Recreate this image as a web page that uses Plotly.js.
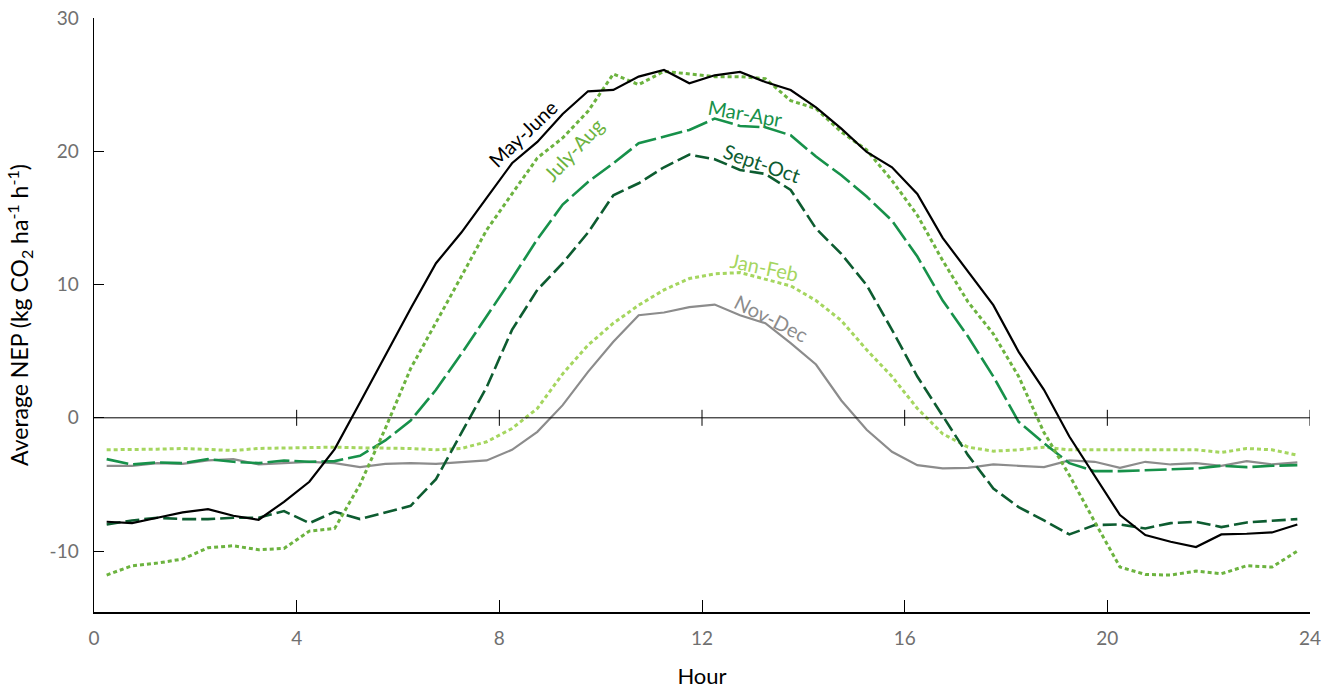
<!DOCTYPE html>
<html>
<head>
<meta charset="utf-8">
<script src="https://cdn.plot.ly/plotly-3.0.1.min.js"></script>
<style>
  html, body { margin: 0; padding: 0; background: #fff; }
  #chart { width: 1323px; height: 689px; }
</style>
</head>
<body>
<div id="chart"></div>
<script>
// Hour of day (half-hour midpoints)
const hours = [0.25,0.75,1.25,1.75,2.25,2.75,3.25,3.75,4.25,4.75,5.25,5.75,6.25,6.75,7.25,7.75,
  8.25,8.75,9.25,9.75,10.25,10.75,11.25,11.75,12.25,12.75,13.25,13.75,14.25,14.75,15.25,15.75,
  16.25,16.75,17.25,17.75,18.25,18.75,19.25,19.75,20.25,20.75,21.25,21.75,22.25,22.75,23.25,23.75];

const mayJune = [-7.8,-7.9,-7.5,-7.1,-6.85,-7.35,-7.65,-6.3,-4.8,-2.35,1.15,4.7,8.2,11.6,13.9,16.5,
  19.1,20.7,22.8,24.5,24.6,25.6,26.1,25.1,25.7,25.95,25.2,24.6,23.3,21.7,19.95,18.8,
  16.8,13.5,10.95,8.45,4.95,2.1,-1.4,-4.3,-7.3,-8.8,-9.3,-9.7,-8.75,-8.7,-8.6,-8.0];

const julyAug = [-11.8,-11.1,-10.9,-10.6,-9.75,-9.6,-9.9,-9.8,-8.5,-8.3,-5.0,-0.8,3.7,7.1,10.6,14.1,
  16.8,19.5,21.0,23.0,25.8,25.0,26.0,25.8,25.6,25.6,25.45,23.8,23.2,21.45,20.1,17.8,
  15.2,11.8,8.7,6.3,3.1,-1.1,-4.3,-7.8,-11.2,-11.75,-11.8,-11.5,-11.7,-11.1,-11.2,-10.0];

const marApr = [-3.1,-3.5,-3.35,-3.4,-3.1,-3.3,-3.4,-3.2,-3.3,-3.25,-2.85,-1.7,-0.2,2.1,4.8,7.6,
  10.45,13.4,16.0,17.7,19.1,20.6,21.1,21.6,22.45,21.9,21.8,21.2,19.6,18.2,16.6,14.8,
  12.1,8.8,6.1,3.1,-0.3,-1.9,-3.4,-4.0,-4.0,-3.95,-3.85,-3.8,-3.6,-3.7,-3.6,-3.55];

const septOct = [-8.0,-7.7,-7.5,-7.6,-7.6,-7.5,-7.5,-7.0,-7.9,-7.05,-7.6,-7.1,-6.6,-4.6,-1.1,2.3,
  6.6,9.6,11.6,13.9,16.7,17.6,18.8,19.75,19.4,18.6,18.3,17.1,14.2,12.3,9.95,6.6,
  3.1,0.1,-2.8,-5.3,-6.7,-7.7,-8.75,-8.05,-8.0,-8.3,-7.9,-7.8,-8.2,-7.85,-7.75,-7.6];

const janFeb = [-2.4,-2.4,-2.35,-2.3,-2.35,-2.45,-2.3,-2.25,-2.2,-2.2,-2.25,-2.25,-2.3,-2.4,-2.3,-1.8,
  -0.8,0.7,3.3,5.45,7.1,8.45,9.6,10.45,10.8,10.9,10.4,9.9,8.8,7.3,5.1,3.1,
  0.7,-1.2,-2.2,-2.5,-2.4,-2.2,-2.4,-2.4,-2.4,-2.35,-2.35,-2.4,-2.6,-2.3,-2.4,-2.8];

const novDec = [-3.6,-3.6,-3.4,-3.45,-3.2,-3.1,-3.5,-3.4,-3.3,-3.4,-3.7,-3.45,-3.4,-3.45,-3.35,-3.2,
  -2.4,-1.05,0.95,3.45,5.7,7.7,7.9,8.3,8.5,7.7,7.1,5.6,4.0,1.3,-0.9,-2.55,
  -3.55,-3.8,-3.75,-3.5,-3.6,-3.7,-3.2,-3.3,-3.75,-3.3,-3.5,-3.4,-3.6,-3.25,-3.5,-3.35];

const seriesNames = ["Nov-Dec","Jan-Feb","Sept-Oct","Mar-Apr","July-Aug","May-June"];
const xTickVals = [0,4,8,12,16,20,24];
const yTickVals = [-10,0,10,20,30];

const FONT = "Lato, 'Open Sans', sans-serif";

const styles = {
  "May-June": {color:"#000000", width:2.2, dash:"solid"},
  "July-Aug": {color:"#6cb33f", width:3, dash:"4px,3px"},
  "Mar-Apr":  {color:"#17914a", width:2.6, dash:"22px,5px"},
  "Sept-Oct": {color:"#0d5c30", width:2.6, dash:"14px,5px"},
  "Jan-Feb":  {color:"#a5d65f", width:3, dash:"4px,3px"},
  "Nov-Dec":  {color:"#8c8c8c", width:2.2, dash:"solid"}
};
const dataMap = {"May-June":mayJune,"July-Aug":julyAug,"Mar-Apr":marApr,"Sept-Oct":septOct,"Jan-Feb":janFeb,"Nov-Dec":novDec};

const traces = seriesNames.map(n => ({
  type:"scatter", mode:"lines", name:n, x:hours, y:dataMap[n],
  line:{color:styles[n].color, width:styles[n].width, dash:styles[n].dash},
  hoverinfo:"x+y+name"
}));

// labels placed next to curves
const labels = [
  {t:"May-June", x:8.47, y:21.35, a:-44},
  {t:"July-Aug", x:9.47, y:20.15, a:-47},
  {t:"Mar-Apr",  x:12.85, y:22.9, a:10},
  {t:"Sept-Oct", x:13.18, y:19.1, a:19},
  {t:"Jan-Feb",  x:13.24, y:11.3, a:12},
  {t:"Nov-Dec",  x:13.37, y:7.5, a:27}
];
const annotations = labels.map(l => ({
  x:l.x, y:l.y, xref:"x", yref:"y", text:l.t, showarrow:false, textangle:l.a,
  font:{family:FONT, size:20, color:styles[l.t].color}
}));

// zero line with crossing ticks
const shapes = [{type:"line", xref:"x", yref:"y", x0:0, x1:24, y0:0, y1:0, line:{color:"#000", width:1}}];
xTickVals.slice(1).forEach(v => shapes.push({
  type:"line", xref:"x", yref:"y", x0:v, x1:v, y0:-0.6, y1:0.6,
  line:{color:"#000", width:1}
}));

const layout = {
  width:1323, height:689,
  margin:{l:94, r:13, t:18, b:77},
  paper_bgcolor:"#fff", plot_bgcolor:"#fff",
  showlegend:false,
  font:{family:FONT},
  xaxis:{
    range:[0,24], tickvals:xTickVals, ticktext:xTickVals.map(String),
    ticks:"inside", ticklen:12, tickcolor:"#000", tickwidth:1,
    showline:true, linecolor:"#000", linewidth:1.5, showgrid:false, zeroline:false,
    tickfont:{family:FONT, size:19, color:"#707070"}, ticklabelstandoff:9,
    title:{text:"Hour", font:{family:FONT, size:22, color:"#000"}, standoff:20}
  },
  yaxis:{
    range:[-14.57,30], tickvals:yTickVals, ticktext:yTickVals.map(String),
    ticks:"inside", ticklen:10, tickcolor:"#000", tickwidth:1,
    showline:true, linecolor:"#000", linewidth:1.5, showgrid:false, zeroline:false,
    tickfont:{family:FONT, size:19, color:"#707070"}, ticklabelstandoff:10,
    title:{text:"Average NEP (kg CO<sub>2</sub> ha<sup>-1</sup> h<sup>-1</sup>)", font:{family:FONT, size:23, color:"#000"}, standoff:14}
  },
  annotations:annotations,
  shapes:shapes
};

Plotly.newPlot("chart", traces, layout, {displayModeBar:false, staticPlot:true});
</script>
</body>
</html>
